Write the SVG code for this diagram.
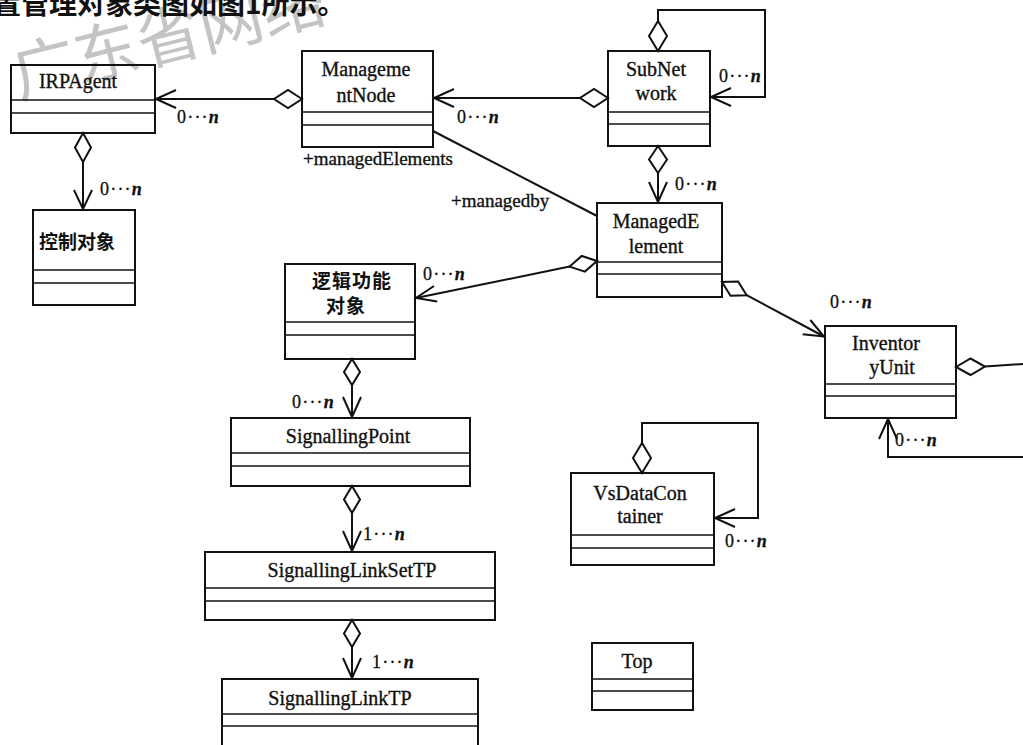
<svg xmlns="http://www.w3.org/2000/svg" width="1023" height="745" viewBox="0 0 1023 745">
<style>
.bg{fill:#fff}
.box{fill:none;stroke:#111;stroke-width:2}
.div{stroke:#111;stroke-width:1.6}
.t{font-family:"Liberation Serif","Times New Roman",serif;font-size:20px;fill:#111;stroke:#111;stroke-width:0.35;text-anchor:middle}
.tc{font-family:"Noto Sans CJK SC",sans-serif;font-size:19px;font-weight:bold;fill:#111}
.ln{fill:none;stroke:#111;stroke-width:2}
.dia{fill:#fff;stroke:#111;stroke-width:2;stroke-linejoin:miter}
.m{font-family:"Liberation Serif","Times New Roman",serif;font-size:18px;fill:#111;stroke:#111;stroke-width:0.3;letter-spacing:1.2px}
.m tspan{font-style:italic;font-weight:bold;letter-spacing:0}
.lab{font-family:"Liberation Serif","Times New Roman",serif;font-size:19px;fill:#111;stroke:#111;stroke-width:0.35}
</style>
<rect class="bg" x="0" y="0" width="1023" height="745"/>
<text transform="translate(19,98) rotate(-14)" font-family="'Noto Sans CJK SC',sans-serif" font-size="64" fill="#c4c4c4">广东省网络</text>
<text x="-7" y="14" font-family="'Noto Sans CJK SC',sans-serif" font-size="28" font-weight="bold" fill="#111">置管理对象类图如图1所示。</text>

<g id="connectors">
  <!-- ManagementNode -> IRPAgent -->
  <line class="ln" x1="274" y1="99" x2="156" y2="99"/>
  <polyline class="ln" points="176,90 156,99 176,108"/>
  <polygon class="dia" points="302,99 288,90 274,99 288,108"/>
  <text class="m" x="177" y="123">0···<tspan>n</tspan></text>
  <!-- SubNetwork -> ManagementNode -->
  <line class="ln" x1="580" y1="98" x2="434" y2="98"/>
  <polyline class="ln" points="454,89 434,98 454,107"/>
  <polygon class="dia" points="608,98 594,89 580,98 594,107"/>
  <text class="m" x="457" y="123">0···<tspan>n</tspan></text>
  <!-- SubNetwork self -->
  <polyline class="ln" points="658,21 658,10 765,10 765,97 711,97"/>
  <polyline class="ln" points="731,88 711,97 731,106"/>
  <polygon class="dia" points="658,51 667,36 658,21 649,36"/>
  <text class="m" x="719" y="82">0···<tspan>n</tspan></text>
  <!-- SubNetwork -> ManagedElement -->
  <line class="ln" x1="658" y1="173" x2="658" y2="202"/>
  <polyline class="ln" points="649,182 658,202 667,182"/>
  <polygon class="dia" points="658,146 667,159.5 658,173 649,159.5"/>
  <text class="m" x="675" y="190">0···<tspan>n</tspan></text>
  <!-- association -->
  <line class="ln" x1="433" y1="131" x2="597" y2="216"/>
  <text class="lab" x="303" y="165">+managedElements</text>
  <text class="lab" x="451" y="207">+managedby</text>
  <!-- IRPAgent -> 控制对象 -->
  <line class="ln" x1="83" y1="162" x2="83" y2="209"/>
  <polyline class="ln" points="74,190 83,209 92,190"/>
  <polygon class="dia" points="83,133 91,147.5 83,162 75,147.5"/>
  <text class="m" x="100" y="195">0···<tspan>n</tspan></text>
  <!-- ManagedElement -> 逻辑功能对象 -->
  <line class="ln" x1="569.6" y1="266.6" x2="416" y2="298"/>
  <polyline class="ln" points="437.2,301.6 416,298 434,286"/>
  <polygon class="dia" points="597,261 584.9,271.6 569.6,266.6 581.7,256"/>
  <text class="m" x="423" y="280">0···<tspan>n</tspan></text>
  <!-- ManagedElement -> InventoryUnit -->
  <line class="ln" x1="746.7" y1="295.2" x2="824" y2="336.5"/>
  <polyline class="ln" points="802.7,334.2 824,336.5 810.3,320"/>
  <polygon class="dia" points="722,282 730.5,295.7 746.7,295.2 738.1,281.5"/>
  <text class="m" x="830" y="308">0···<tspan>n</tspan></text>
  <!-- InventoryUnit right -->
  <line class="ln" x1="985" y1="366.5" x2="1023" y2="364"/>
  <polygon class="dia" points="956,367 970.5,358.5 985,366.5 970.5,375"/>
  <!-- InventoryUnit bottom loop -->
  <polyline class="ln" points="1023,457 888,457 888,419"/>
  <polyline class="ln" points="879,439 888,419 897,439"/>
  <text class="m" x="895" y="446">0···<tspan>n</tspan></text>
  <!-- VsDataContainer self -->
  <polyline class="ln" points="642,443 642,423 758,423 758,518 715,518"/>
  <polyline class="ln" points="735,509 715,518 735,527"/>
  <polygon class="dia" points="642,473 651,458 642,443 633,458"/>
  <text class="m" x="725" y="547">0···<tspan>n</tspan></text>
  <!-- 逻辑功能对象 -> SignallingPoint -->
  <line class="ln" x1="352" y1="385" x2="352" y2="417"/>
  <polyline class="ln" points="343,397 352,417 361,397"/>
  <polygon class="dia" points="352,359 360,372 352,385 344,372"/>
  <text class="m" x="292" y="408">0···<tspan>n</tspan></text>
  <!-- SignallingPoint -> SignallingLinkSetTP -->
  <line class="ln" x1="352" y1="513" x2="352" y2="551"/>
  <polyline class="ln" points="343,531 352,551 361,531"/>
  <polygon class="dia" points="352,486 360,499.5 352,513 344,499.5"/>
  <text class="m" x="363" y="540">1···<tspan>n</tspan></text>
  <!-- SignallingLinkSetTP -> SignallingLinkTP -->
  <line class="ln" x1="352" y1="647" x2="352" y2="678"/>
  <polyline class="ln" points="343,658 352,678 361,658"/>
  <polygon class="dia" points="352,620 360,633.5 352,647 344,633.5"/>
  <text class="m" x="372" y="668">1···<tspan>n</tspan></text>
</g>

<g id="IRPAgent">
  <rect class="box" x="11" y="65" width="144" height="68"/>
  <line class="div" x1="11" y1="100" x2="155" y2="100"/>
  <line class="div" x1="11" y1="113" x2="155" y2="113"/>
  <text class="t" x="78" y="88">IRPAgent</text>
</g>
<g id="ManagementNode">
  <rect class="box" x="302" y="51" width="131" height="96"/>
  <line class="div" x1="302" y1="112" x2="433" y2="112"/>
  <line class="div" x1="302" y1="125" x2="433" y2="125"/>
  <text class="t" x="366" y="76">Manageme</text>
  <text class="t" x="366" y="102">ntNode</text>
</g>
<g id="SubNetwork">
  <rect class="box" x="608" y="51" width="102" height="95"/>
  <line class="div" x1="608" y1="112" x2="710" y2="112"/>
  <line class="div" x1="608" y1="124" x2="710" y2="124"/>
  <text class="t" x="656" y="76">SubNet</text>
  <text class="t" x="656" y="100">work</text>
</g>
<g id="ManagedElement">
  <rect class="box" x="597" y="203" width="125" height="94"/>
  <line class="div" x1="597" y1="262" x2="722" y2="262"/>
  <line class="div" x1="597" y1="274" x2="722" y2="274"/>
  <text class="t" x="656" y="228">ManagedE</text>
  <text class="t" x="656" y="253">lement</text>
</g>
<g id="ControlObject">
  <rect class="box" x="33" y="210" width="102" height="95"/>
  <line class="div" x1="33" y1="270" x2="135" y2="270"/>
  <line class="div" x1="33" y1="283" x2="135" y2="283"/>
  <text class="tc" x="39" y="249">控制对象</text>
</g>
<g id="LogicFunctionObject">
  <rect class="box" x="285" y="264" width="130" height="95"/>
  <line class="div" x1="285" y1="322" x2="415" y2="322"/>
  <line class="div" x1="285" y1="335" x2="415" y2="335"/>
  <text class="tc" x="352" y="288" text-anchor="middle" font-size="18" letter-spacing="1">逻辑功能</text>
  <text class="tc" x="346" y="313" text-anchor="middle" font-size="18" letter-spacing="1">对象</text>
</g>
<g id="InventoryUnit">
  <rect class="box" x="825" y="326" width="131" height="92"/>
  <line class="div" x1="825" y1="384" x2="956" y2="384"/>
  <line class="div" x1="825" y1="396" x2="956" y2="396"/>
  <text class="t" x="886" y="350">Inventor</text>
  <text class="t" x="892" y="374">yUnit</text>
</g>
<g id="VsDataContainer">
  <rect class="box" x="571" y="473" width="143" height="92"/>
  <line class="div" x1="571" y1="535" x2="714" y2="535"/>
  <line class="div" x1="571" y1="548" x2="714" y2="548"/>
  <text class="t" x="640" y="500">VsDataCon</text>
  <text class="t" x="640" y="523">tainer</text>
</g>
<g id="SignallingPoint">
  <rect class="box" x="231" y="418" width="239" height="68"/>
  <line class="div" x1="231" y1="453" x2="470" y2="453"/>
  <line class="div" x1="231" y1="466" x2="470" y2="466"/>
  <text class="t" x="348" y="443">SignallingPoint</text>
</g>
<g id="SignallingLinkSetTP">
  <rect class="box" x="205" y="552" width="290" height="68"/>
  <line class="div" x1="205" y1="588" x2="495" y2="588"/>
  <line class="div" x1="205" y1="601" x2="495" y2="601"/>
  <text class="t" x="352" y="577">SignallingLinkSetTP</text>
</g>
<g id="SignallingLinkTP">
  <rect class="box" x="222" y="679" width="256" height="90"/>
  <line class="div" x1="222" y1="714" x2="478" y2="714"/>
  <line class="div" x1="222" y1="726" x2="478" y2="726"/>
  <text class="t" x="340" y="705">SignallingLinkTP</text>
</g>
<g id="Top">
  <rect class="box" x="592" y="643" width="101" height="67"/>
  <line class="div" x1="592" y1="679" x2="693" y2="679"/>
  <line class="div" x1="592" y1="691" x2="693" y2="691"/>
  <text class="t" x="637" y="668">Top</text>
</g>
</svg>
